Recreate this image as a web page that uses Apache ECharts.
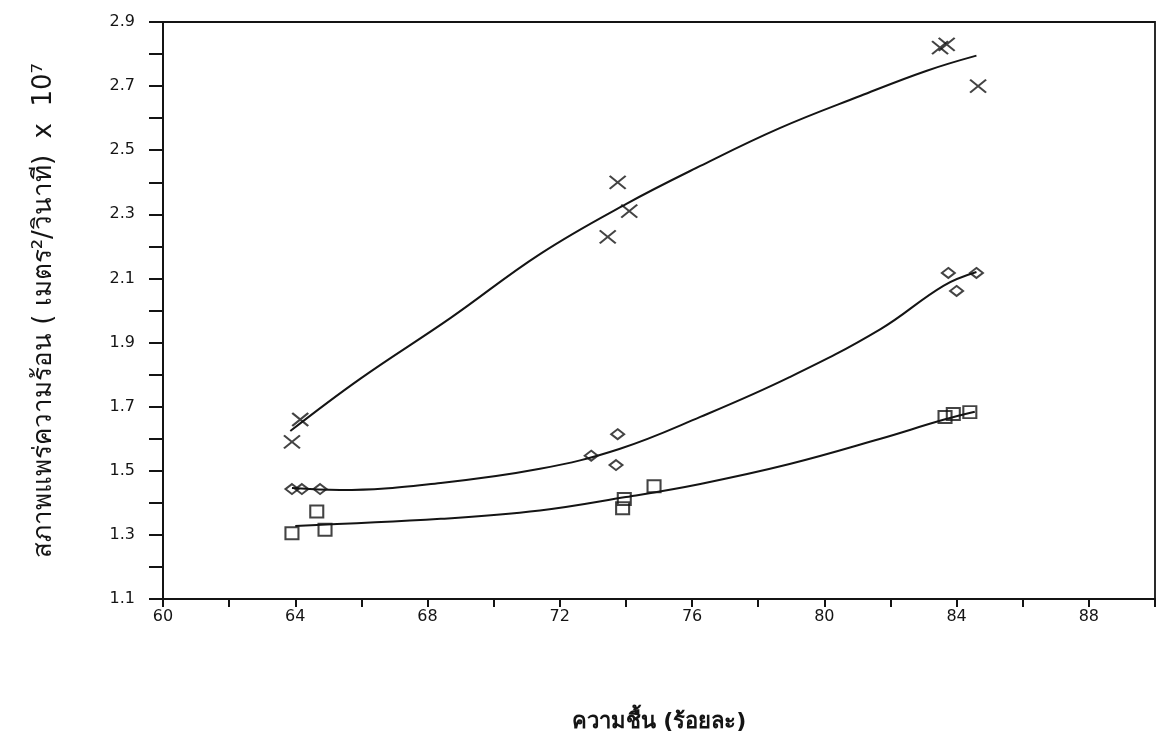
<!DOCTYPE html>
<html>
<head>
<meta charset="utf-8">
<script src="https://cdn.jsdelivr.net/npm/echarts@6/dist/echarts.min.js"></script>
<style>
  html, body { margin: 0; padding: 0; background: #ffffff; }
  #chart { width: 1164px; height: 750px; }
</style>
</head>
<body>
<div id="chart"></div>
<script>
// Measured points: moisture (%) vs thermal diffusivity (m²/s x 10^7)
const crossX = [63.9, 64.15, 73.45, 73.75, 74.1, 83.5, 83.7, 84.65];
const crossY = [1.59, 1.66, 2.23, 2.40, 2.31, 2.82, 2.83, 2.70];
const diamondX = [63.9, 64.2, 64.75, 72.95, 73.75, 73.7, 83.75, 84.0, 84.6];
const diamondY = [1.443, 1.443, 1.443, 1.547, 1.614, 1.518, 2.117, 2.061, 2.117];
const squareX = [63.9, 64.65, 64.9, 74.85, 73.95, 73.9, 83.65, 83.9, 84.4];
const squareY = [1.305, 1.373, 1.316, 1.452, 1.412, 1.383, 1.668, 1.677, 1.683];

// Fitted curves through each group
const crossFitX = [63.85, 65.95, 68.7, 71.4, 74.0, 76.25, 78.65, 81.1, 83.1, 84.6];
const crossFitY = [1.624, 1.786, 1.977, 2.176, 2.332, 2.451, 2.569, 2.67, 2.748, 2.795];
const diamondFitX = [63.9, 65.35, 68.4, 71.4, 73.8, 76.25, 78.95, 81.7, 83.6, 84.6];
const diamondFitY = [1.446, 1.44, 1.462, 1.506, 1.568, 1.668, 1.792, 1.942, 2.077, 2.12];
const squareFitX = [64.0, 68.4, 71.4, 74.0, 76.25, 78.95, 81.7, 83.6, 84.55];
const squareFitY = [1.328, 1.35, 1.376, 1.418, 1.459, 1.521, 1.6, 1.659, 1.684];

// Axis text
const xTitle = 'ความชื้น (ร้อยละ)';
const yTitle = 'สภาพแพร่ความร้อน ( เมตร²/วินาที)  x  10⁷';

const ink = '#141414';
const pair = (xs, ys) => xs.map((x, i) => [x, ys[i]]);

const chart = echarts.init(document.getElementById('chart'), null, { renderer: 'canvas' });

const lineSeries = (xs, ys) => ({
  type: 'line',
  data: pair(xs, ys),
  smooth: 0.4,
  showSymbol: false,
  lineStyle: { color: ink, width: 2 },
  z: 2
});

const pointSeries = (xs, ys, symbol, size) => ({
  type: 'scatter',
  data: pair(xs, ys),
  symbol: symbol,
  symbolSize: size,
  itemStyle: { color: 'rgba(255,255,255,0)', borderColor: ink, borderWidth: 2 },
  z: 3
});

chart.setOption({
  backgroundColor: '#ffffff',
  animation: false,
  grid: {
    left: 163, right: 9, top: 22, bottom: 151,
    show: true, borderColor: ink, borderWidth: 1.8, backgroundColor: '#ffffff'
  },
  xAxis: {
    type: 'value',
    min: 60, max: 90, interval: 2,
    name: xTitle,
    nameLocation: 'middle',
    nameGap: 112,
    nameTextStyle: { color: ink, fontSize: 22, fontWeight: 'bold', fontFamily: 'DejaVu Sans, sans-serif' },
    axisLine: { lineStyle: { color: ink, width: 2 } },
    axisTick: { length: 8, lineStyle: { color: ink, width: 2 } },
    splitLine: { show: false },
    axisLabel: {
      margin: 10,
      color: ink, fontSize: 16, fontFamily: 'DejaVu Sans, sans-serif',
      formatter: v => (Math.round(v) % 4 === 0 ? String(Math.round(v)) : '')
    }
  },
  yAxis: {
    type: 'value',
    min: 1.1, max: 2.9, interval: 0.1,
    name: yTitle,
    nameLocation: 'middle',
    nameRotate: 90,
    nameGap: 106,
    nameTextStyle: { color: ink, fontSize: 26, fontFamily: 'DejaVu Sans, sans-serif' },
    axisLine: { lineStyle: { color: ink, width: 2 } },
    axisTick: { length: 14, lineStyle: { color: ink, width: 2 } },
    splitLine: { show: false },
    axisLabel: {
      margin: 28,
      color: ink, fontSize: 16, fontFamily: 'DejaVu Sans, sans-serif',
      formatter: v => (Math.round(v * 10) % 2 === 1 ? v.toFixed(1) : '')
    }
  },
  series: [
    lineSeries(crossFitX, crossFitY),
    lineSeries(diamondFitX, diamondFitY),
    lineSeries(squareFitX, squareFitY),
    pointSeries(crossX, crossY, 'path://M0,0L16,13M16,0L0,13', [16, 13]),
    pointSeries(diamondX, diamondY, 'diamond', [13, 10]),
    pointSeries(squareX, squareY, 'rect', [13, 12])
  ]
});
</script>
</body>
</html>
